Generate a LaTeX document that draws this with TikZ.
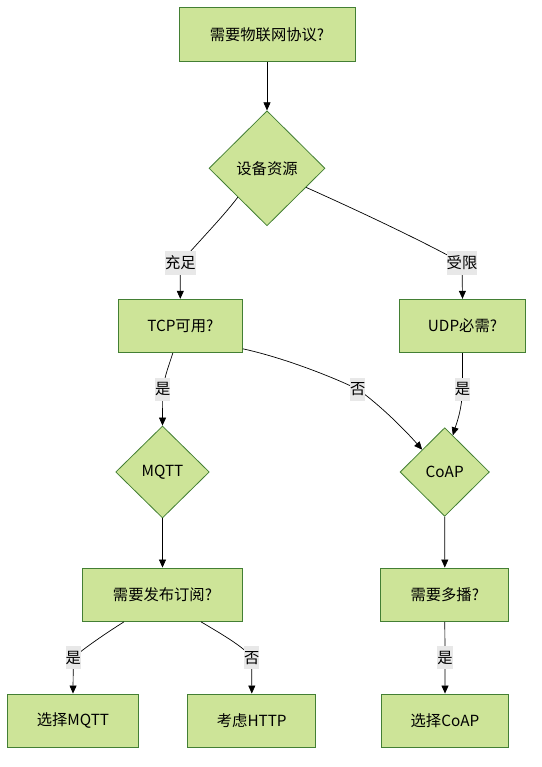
\documentclass[tikz,border=0pt]{standalone}
\usepackage{fontspec}
\setmainfont{Noto Sans CJK SC}
\usetikzlibrary{shapes.geometric,arrows.meta,calc}
\definecolor{boxfill}{HTML}{CDE498}
\definecolor{boxline}{HTML}{437F34}
\definecolor{lblbg}{HTML}{E8E8E8}
\begin{document}
\begin{tikzpicture}[x=1pt,y=-1pt,
  every node/.style={font=\fontsize{15.3}{18}\selectfont},
  procbox/.style={draw=boxline,fill=boxfill,line width=1pt,minimum height=53.3pt,inner sep=0pt},
  decide/.style={diamond,draw=boxline,fill=boxfill,line width=0.8pt,inner sep=0pt},
  lbl/.style={fill=lblbg,inner xsep=0pt,inner ysep=0pt,minimum height=23.3pt},
  arr/.style={draw=black,line width=0.7pt,-{Triangle[length=8pt,width=7pt]}}]
\useasboundingbox (0,0) rectangle (541,767);
% nodes
\node[procbox,minimum width=176pt,minimum height=54pt] (q) at (267,34.3) {需要物联网协议?};
\node[decide,minimum width=116pt,minimum height=115pt] (res) at (267,168.3) {设备资源};
\node[procbox,minimum width=124pt] (tcp) at (180.3,326) {TCP可用?};
\node[procbox,minimum width=125.6pt] (udp) at (462.5,326) {UDP必需?};
\node[decide,minimum width=93.6pt,minimum height=92pt] (mqtt) at (162.5,472) {MQTT};
\node[decide,minimum width=89.3pt,minimum height=88.6pt] (coap) at (444.7,472) {CoAP};
\node[procbox,minimum width=159.6pt] (ps) at (162.5,594.7) {需要发布订阅?};
\node[procbox,minimum width=128.3pt] (mc) at (444.8,594.7) {需要多播?};
\node[procbox,minimum width=130.6pt] (smqtt) at (73,720.7) {选择MQTT};
\node[procbox,minimum width=128.3pt] (http) at (251.8,720.7) {考虑HTTP};
\node[procbox,minimum width=127.3pt] (scoap) at (445,720.7) {选择CoAP};
% label positions
\coordinate (l1) at (180.3,263);
\coordinate (l2) at (462,263);
\coordinate (l3) at (162.7,389.3);
\coordinate (l4) at (357.8,389.3);
\coordinate (l5) at (462.5,389.3);
\coordinate (l8) at (73.3,657.7);
\coordinate (l9) at (251.8,657.7);
\coordinate (l10) at (445,657.7);
% edges
\draw[arr] (q.south) -- (res.north);
\draw[arr] (res.south west) .. controls (222,218) and (200,240) .. (l1) -- (tcp.north);
\draw[arr] ($(res.east)!0.33!(res.south)$) .. controls (370,216) and (430,245) .. (l2) -- (udp.north);
\draw[arr] ($(tcp.south west)!0.44!(tcp.south east)$) .. controls (169,365) and (165,375) .. (l3) -- (mqtt.north);
\draw[arr] ($(tcp.north east)!0.92!(tcp.south east)$) .. controls (285,358) and (335,378) .. (l4) .. controls (380,405) and (405,430) .. (coap.north west);
\draw[arr] (udp.south) -- (l5) .. controls (462,410) and (456,425) .. ($(coap.north)!0.18!(coap.east)$);
\draw[arr] (mqtt.south) -- (ps.north);
\draw[arr] (coap.south) -- (mc.north);
\draw[arr] ($(ps.south west)!0.26!(ps.south east)$) .. controls (100,637) and (82,650) .. (l8) -- (smqtt.north);
\draw[arr] ($(ps.south west)!0.74!(ps.south east)$) .. controls (225,636) and (245,648) .. (l9) -- (http.north);
\draw[arr] (mc.south) -- (l10) -- (scoap.north);
% labels
\node[lbl] (t1) at (l1) {充足};
\node[lbl] (t2) at (l2) {受限};
\node[lbl] (t3) at (l3) {是};
\node[lbl] (t4) at (l4) {否};
\node[lbl] (t5) at (l5) {是};
\node[lbl] (t8) at (l8) {是};
\node[lbl] (t9) at (l9) {否};
\node[lbl] (t10) at (l10) {是};
\end{tikzpicture}
\end{document}
